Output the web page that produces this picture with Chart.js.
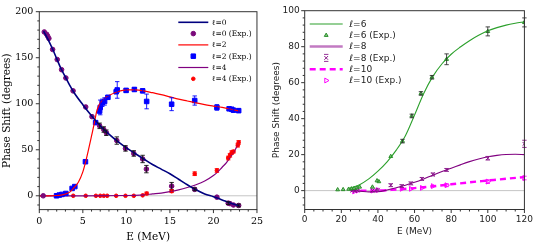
<!DOCTYPE html>
<html>
<head>
<meta charset="utf-8">
<script src="https://cdn.jsdelivr.net/npm/chart.js@4.4.0/dist/chart.umd.min.js"></script>
<style>
html, body { margin: 0; padding: 0; background: #fff; }
#wrap { position: relative; width: 538px; height: 248px; }
canvas { position: absolute; top: 0; }
</style>
</head>
<body>
<div id="wrap">
  <canvas id="leftChart" width="269" height="248" style="left:0"></canvas>
  <canvas id="rightChart" width="269" height="248" style="left:269px"></canvas>
</div>
<script>
// ---- left panel: l = 0, 2, 4 ----
var l0CurveE = [0.5, 1, 1.5, 2, 2.5, 3, 3.5, 4, 5, 6, 7, 8, 9, 10, 11, 12, 13, 14, 15, 16, 17, 18, 19, 20, 21, 22, 23];
var l0CurveD = [179, 170, 160, 149, 138, 129, 120, 112, 99, 87, 76, 67, 59, 52, 46, 40, 34, 29, 24, 18, 12, 6.5, 2, -1, -4.5, -8, -11];
var l0ExpE = [0.45, 0.57, 0.84, 0.96, 1.1, 1.53, 2.06, 2.56, 3.05, 3.88, 5.33, 6.05, 6.93, 7.4, 7.7, 8.9, 9.9, 10.85, 11.87, 12.3, 15.2, 17.85, 20.4, 21.7, 21.9, 22.3, 22.9];
var l0ExpD = [0, 178, 175.5, 173.5, 171, 159, 148, 137, 128, 114, 96.5, 86, 76, 72, 68.5, 60, 51.5, 46, 40, 29, 10.5, 7, -1.5, -8, -8.5, -10, -10.5];
var l0ExpErr = [0, 0, 0, 0, 0, 0, 0, 0, 0, 0, 0, 0, 3, 3, 3, 4, 3, 3, 4, 4, 4, 1.5, 0, 1.5, 0, 0, 1.5];

var l2CurveE = [0, 1, 2, 2.5, 3, 3.5, 4, 4.5, 5, 5.3, 5.6, 6, 6.3, 6.6, 7, 7.5, 8, 9, 10, 11, 12, 13, 14, 15, 16, 17, 18, 19, 20, 21, 22, 23];
var l2CurveD = [0, 0, 0.3, 0.8, 2, 4, 9, 15, 26, 36, 48, 65, 78, 92, 101, 106, 109, 113, 115, 115, 114, 112, 110, 107.5, 105, 103, 101, 99, 97.5, 96, 94, 92];
var l2ExpE = [1.98, 2.3, 2.6, 3.05, 3.77, 4.08, 5.3, 6.47, 6.93, 7.0, 7.23, 7.5, 7.88, 8.83, 8.95, 9.97, 10.92, 11.87, 12.33, 15.2, 17.85, 20.4, 21.8, 22.1, 22.3, 22.9];
var l2ExpD = [0, 0.8, 1.5, 2.5, 8, 10, 37, 79.5, 92, 96, 101, 102.5, 107, 113, 115, 114.5, 115.5, 114, 102.5, 99.5, 103.5, 96, 94.5, 94, 93, 92.5];
var l2ExpErr = [0, 0, 0, 0, 0, 0, 0, 0, 0, 8, 4, 4, 2, 0, 9, 2, 2, 2, 8, 7, 5, 3, 1.5, 0, 1.5, 2];

var l4CurveE = [0, 5, 10, 11, 12, 13, 14, 15, 16, 17, 18, 19, 20, 20.5, 21, 21.5, 22, 22.5, 23];
var l4CurveD = [0, 0, 0.3, 0.5, 1, 2, 3, 4.5, 6.5, 9, 12, 16, 22, 26, 31, 36, 43, 50, 59];
var l4ExpE = [3.9, 5.33, 6.5, 7.0, 7.4, 7.8, 8.83, 9.9, 10.85, 11.87, 12.33, 15.2, 17.85, 20.4, 21.7, 21.9, 22.1, 22.3, 22.8, 22.9];
var l4ExpD = [0, 0, 0, 0, 0, 0, 0, 0, 0, 0.5, 2.5, 5, 24, 27.5, 41, 44, 47, 48, 55, 58];
var l4ExpErr = [0, 0, 0, 0, 0, 0, 0, 0, 0, 0, 1.5, 1.5, 2, 2, 2, 2, 2, 1.5, 2, 2];

// ---- right panel: l = 6, 8, 10 ----
var l6CurveE = [24, 25, 30, 35, 40, 45, 50, 55, 60, 65, 70, 75, 80, 85, 90, 95, 100, 105, 110, 115, 120];
var l6CurveD = [1.2, 1.5, 3.3, 6.5, 10.8, 16, 22.5, 30.5, 42, 54, 63.5, 70.5, 75.8, 79.8, 83.3, 86.3, 88.8, 90.6, 92, 93, 93.8];
var l6ExpE = [18, 21, 24, 25.5, 27, 28.5, 30, 37, 39.5, 40.5, 47, 53.4, 58.5, 63.5, 69.5, 77.5, 100, 120];
var l6ExpD = [0.5, 0.6, 0.8, 1, 1.2, 1.5, 2, 2, 5.5, 5, 19, 27.5, 41.5, 54, 63, 73, 88.5, 93.5];
var l6ExpErr = [0, 0, 0, 0, 0, 0, 0, 0, 0, 0, 0, 1, 1, 1, 1, 3, 2.5, 2.5];

var l8CurveE = [25, 30, 35, 40, 45, 50, 55, 60, 65, 70, 75, 80, 85, 90, 95, 100, 105, 110, 115, 120];
var l8CurveD = [0, -0.3, -0.7, -0.6, 0.3, 1.6, 3, 4.6, 6.5, 8.6, 10.6, 12.4, 14.3, 16.1, 17.6, 18.8, 19.6, 20.1, 20.2, 20];
var l8ExpE = [26, 27.5, 29, 37, 39, 40, 47, 53, 58, 64, 70, 77.5, 100, 120];
var l8ExpD = [0, -0.3, 0, 0, 0.5, 0.5, 3, 2.5, 4, 6.5, 9, 11.5, 18, 26];
var l8ExpErr = [0, 0, 0, 0, 0, 0, 0.8, 0.8, 0.8, 0.8, 0.8, 0.8, 1, 2];

var l10CurveE = [25, 30, 40, 50, 60, 70, 80, 90, 100, 110, 120];
var l10CurveD = [0, 0, 0, 0.6, 1.4, 2.4, 3.5, 4.6, 5.6, 6.6, 7.5];
var l10ExpE = [27, 29, 37, 40, 53, 58, 64, 70, 77.5, 100, 120];
var l10ExpD = [-0.5, 0, 0, 0.3, 1, 1, 1.5, 2.5, 3, 5, 7];
var l10ExpErr = [0, 0, 0, 0, 0, 0, 0, 0, 0.8, 1, 1];

function pts(xs, ys) {
    return xs.map(function (x, i) { return { x: x, y: ys[i] }; });
}

function curve(label, xs, ys, color, width, dash) {
    return {
        label: label, data: pts(xs, ys), showLine: true, pointRadius: 0,
        borderColor: color, backgroundColor: color, borderWidth: width,
        borderDash: dash || [], cubicInterpolationMode: 'monotone'
    };
}

function points(label, xs, ys, errs, style, radius, fill, stroke, errColor) {
    return {
        label: label, data: pts(xs, ys), showLine: false, errs: errs, errColor: errColor,
        pointStyle: style, pointRadius: radius, pointHoverRadius: radius,
        backgroundColor: fill, borderColor: stroke, borderWidth: 1
    };
}

// zero line, error bars, frame, ticks and legend
var decorPlugin = {
    id: 'decor',
    beforeDatasetsDraw: function (chart) {
        var ctx = chart.ctx, a = chart.chartArea;
        var y0 = chart.scales.y.getPixelForValue(0);
        ctx.save();
        ctx.strokeStyle = '#b5b5b5';
        ctx.lineWidth = 0.8;
        ctx.beginPath();
        ctx.moveTo(a.left, y0);
        ctx.lineTo(a.right, y0);
        ctx.stroke();
        ctx.restore();
    },
    afterDatasetsDraw: function (chart) {
        var ctx = chart.ctx, ys = chart.scales.y;
        ctx.save();
        chart.data.datasets.forEach(function (ds, i) {
            if (!ds.errs) return;
            var meta = chart.getDatasetMeta(i);
            ctx.strokeStyle = ds.errColor;
            ctx.lineWidth = 0.9;
            ds.data.forEach(function (p, j) {
                var e = ds.errs[j];
                if (!e) return;
                var px = meta.data[j].x;
                var top = ys.getPixelForValue(p.y + e);
                var bot = ys.getPixelForValue(p.y - e);
                ctx.beginPath();
                ctx.moveTo(px, top); ctx.lineTo(px, bot);
                ctx.moveTo(px - 2.2, top); ctx.lineTo(px + 2.2, top);
                ctx.moveTo(px - 2.2, bot); ctx.lineTo(px + 2.2, bot);
                ctx.stroke();
            });
        });
        ctx.restore();
    },
    afterDraw: function (chart, args, opts) {
        var ctx = chart.ctx, a = chart.chartArea;
        ctx.save();
        ctx.strokeStyle = '#333';
        ctx.lineWidth = 1;
        ctx.strokeRect(a.left, a.top, a.right - a.left, a.bottom - a.top);

        // ticks, major and minor
        [['x', opts.xMinor], ['y', opts.yMinor]].forEach(function (t) {
            var s = chart.scales[t[0]], minor = t[1], major = s.options.ticks.stepSize;
            var n0 = Math.ceil(s.min / minor - 1e-9), n1 = Math.floor(s.max / minor + 1e-9);
            ctx.beginPath();
            for (var n = n0; n <= n1; n++) {
                var v = n * minor;
                var isMajor = Math.abs(v / major - Math.round(v / major)) < 1e-6;
                var len = isMajor ? 3.5 : 2;
                var p = s.getPixelForValue(v);
                if (t[0] === 'x') { ctx.moveTo(p, a.bottom); ctx.lineTo(p, a.bottom + len); }
                else { ctx.moveTo(a.left, p); ctx.lineTo(a.left - len, p); }
            }
            ctx.stroke();
        });

        // legend
        var lg = opts.legend;
        ctx.font = lg.font;
        ctx.textBaseline = 'middle';
        ctx.textAlign = 'left';
        chart.data.datasets.forEach(function (ds, i) {
            var y = lg.y + i * lg.rowH;
            var xm = lg.x + lg.lineLen / 2;
            if (ds.showLine) {
                ctx.save();
                ctx.strokeStyle = ds.legendColor || ds.borderColor;
                ctx.lineWidth = ds.legendWidth || ds.borderWidth;
                ctx.setLineDash(ds.borderDash || []);
                ctx.beginPath();
                ctx.moveTo(lg.x, y); ctx.lineTo(lg.x + lg.lineLen, y);
                ctx.stroke();
                ctx.restore();
            } else {
                ctx.save();
                if (ds.legendCaps) {
                    ctx.strokeStyle = ds.errColor;
                    ctx.lineWidth = 0.9;
                    ctx.beginPath();
                    ctx.moveTo(xm - 2.2, y - 3.5); ctx.lineTo(xm + 2.2, y - 3.5);
                    ctx.moveTo(xm - 2.2, y + 3.5); ctx.lineTo(xm + 2.2, y + 3.5);
                    ctx.stroke();
                }
                ctx.fillStyle = ds.backgroundColor;
                ctx.strokeStyle = ds.borderColor;
                ctx.lineWidth = ds.borderWidth;
                Chart.helpers.drawPoint(ctx, {
                    pointStyle: ds.pointStyle, radius: ds.pointRadius,
                    rotation: ds.pointRotation || 0, borderWidth: ds.borderWidth
                }, xm, y);
                ctx.restore();
            }
            ctx.fillStyle = lg.color;
            ctx.fillText(ds.label, lg.x + lg.lineLen + lg.gap, y + 0.5);
        });
        ctx.restore();
    }
};

function axis(min, max, step, title, fontFam, tickSize, titleSize, color, pad, titlePad, fit) {
    return {
        type: 'linear', min: min, max: max,
        grid: { display: false, drawTicks: false }, border: { display: false },
        ticks: {
            stepSize: step, includeBounds: false, maxRotation: 0, autoSkip: false, padding: pad,
            color: color, font: { family: fontFam, size: tickSize }
        },
        title: {
            display: true, text: title, color: color, padding: titlePad,
            font: { family: fontFam, size: titleSize }
        },
        afterFit: fit
    };
}

var leftDatasets = [
    curve('ℓ=0', l0CurveE, l0CurveD, '#00007f', 1.6),
    points('ℓ=0 (Exp.)', l0ExpE, l0ExpD, l0ExpErr, 'circle', 2.3, '#7a0a7a', '#7a0a7a', '#111'),
    curve('ℓ=2', l2CurveE, l2CurveD, '#ff0000', 1.2),
    points('ℓ=2 (Exp.)', l2ExpE, l2ExpD, l2ExpErr, 'rect', 3.2, '#0000ff', '#0000ff', '#0000ff'),
    curve('ℓ=4', l4CurveE, l4CurveD, '#800080', 1.2),
    points('ℓ=4 (Exp.)', l4ExpE, l4ExpD, l4ExpErr, 'circle', 1.8, '#ff0000', '#ff0000', '#ff0000')
];

var l8Exp = points('ℓ=8 (Exp.)', l8ExpE, l8ExpD, l8ExpErr, 'crossRot', 2.6, '#8b1a8b', '#8b1a8b', '#8b1a8b');
l8Exp.legendCaps = true;
var l8Line = curve('ℓ=8', l8CurveE, l8CurveD, '#800080', 1.1);
l8Line.legendColor = '#c27ac2';
l8Line.legendWidth = 2.5;
var l10Exp = points('ℓ=10 (Exp.)', l10ExpE, l10ExpD, l10ExpErr, 'triangle', 2.8, 'rgba(255,255,255,0)', '#ff00ff', '#ff00ff');
l10Exp.pointRotation = 90;

var rightDatasets = [
    curve('ℓ=6', l6CurveE, l6CurveD, '#2ca02c', 1.1),
    points('ℓ=6 (Exp.)', l6ExpE, l6ExpD, l6ExpErr, 'triangle', 2.2, 'rgba(60,160,60,0.6)', '#2a8f2a', '#333'),
    l8Line,
    l8Exp,
    curve('ℓ=10', l10CurveE, l10CurveD, '#ff00ff', 2.4, [6, 4]),
    l10Exp
];

new Chart(document.getElementById('leftChart').getContext('2d'), {
    type: 'scatter',
    data: { datasets: leftDatasets },
    options: {
        responsive: false, animation: false, devicePixelRatio: 1,
        layout: { padding: { left: 0, right: 10.7, top: 10, bottom: 0 } },
        scales: {
            x: axis(0, 25, 5, 'E (MeV)', 'DejaVu Serif', 9.5, 10.5, '#000', 6, { top: 0, bottom: 4 },
                function (s) { s.height = 38.4; }),
            y: axis(-15, 200, 50, 'Phase Shift (degrees)', 'DejaVu Serif', 9.5, 10.5, '#000', 6, { top: 0.5, bottom: 0 },
                function (s) { s.width = 39.3; })
        },
        plugins: {
            legend: { display: false }, tooltip: { enabled: false },
            decor: {
                xMinor: 1, yMinor: 10,
                legend: { x: 178.3, y: 22.3, rowH: 11.3, lineLen: 30, gap: 3.5, font: '7.5px "DejaVu Serif"', color: '#000' }
            }
        }
    },
    plugins: [decorPlugin]
});

new Chart(document.getElementById('rightChart').getContext('2d'), {
    type: 'scatter',
    data: { datasets: rightDatasets },
    options: {
        responsive: false, animation: false, devicePixelRatio: 1,
        layout: { padding: { left: 0, right: 13.3, top: 10.7, bottom: 0 } },
        scales: {
            x: axis(0, 120, 20, 'E (MeV)', 'DejaVu Sans', 9, 9, '#222', 5, { top: 0, bottom: 11 },
                function (s) { s.height = 38.5; }),
            y: axis(-10.5, 100, 20, 'Phase Shift (degrees)', 'DejaVu Sans', 9, 9, '#222', 5, { top: 2, bottom: 0 },
                function (s) { s.width = 35.7; })
        },
        plugins: {
            legend: { display: false }, tooltip: { enabled: false },
            decor: {
                xMinor: 5, yMinor: 4,
                legend: { x: 40.7, y: 24, rowH: 11.3, lineLen: 33, gap: 6.7, font: '9px "DejaVu Sans"', color: '#222' }
            }
        }
    },
    plugins: [decorPlugin]
});
</script>
</body>
</html>
